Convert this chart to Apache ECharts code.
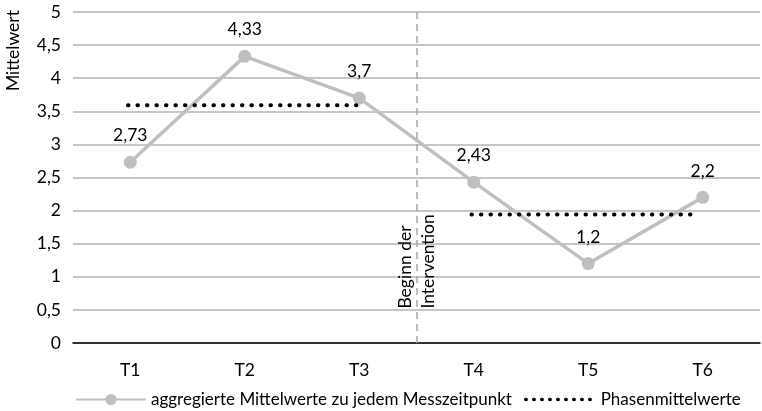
<!DOCTYPE html>
<html>
<head>
<meta charset="utf-8">
<script src="https://cdn.jsdelivr.net/npm/echarts@6/dist/echarts.min.js"></script>
<style>
  html, body { margin: 0; padding: 0; background: #fff; }
  #chart { width: 762px; height: 411px; }
</style>
</head>
<body>
<div id="chart"></div>
<script>
// data
var categories = ['T1', 'T2', 'T3', 'T4', 'T5', 'T6'];
var mittelwerte = [2.73, 4.33, 3.7, 2.43, 1.2, 2.2];
// phase means, drawn on a hidden 0..6 value axis
var phase1 = [[0.48, 3.59], [2.5, 3.59]];
var phase2 = [[3.48, 1.94], [5.47, 1.94]];
var interventionAt = 3;

var font = 'Lato';
var fs = 17.5;
var chart = echarts.init(document.getElementById('chart'));

var fmt = function (v) {
    return String(v).replace('.', ',');
};

chart.setOption({
    animation: false,
    textStyle: { fontFamily: font },
    grid: { left: 73, right: 2, top: 12, bottom: 68 },
    xAxis: [{
        type: 'category',
        data: categories,
        axisLine: { lineStyle: { color: '#000', width: 1.5 } },
        axisTick: { show: false },
        axisLabel: { color: '#000', fontSize: fs, margin: 18, fontFamily: font }
    }, {
        type: 'value',
        min: 0,
        max: 6,
        show: false
    }],
    yAxis: {
        type: 'value',
        min: 0,
        max: 5,
        interval: 0.5,
        axisLine: { show: false },
        axisTick: { show: false },
        axisLabel: { color: '#000', fontSize: fs, margin: 12, formatter: fmt, fontFamily: font },
        splitLine: { lineStyle: { color: '#b3b3b3', width: 1.5 } }
    },
    legend: {
        bottom: 3,
        left: 75,
        right: 0,
        padding: 0,
        itemWidth: 70,
        itemHeight: 14,
        itemGap: 12,
        textStyle: { color: '#000', fontSize: 17, fontFamily: font },
        data: [
            'aggregierte Mittelwerte zu jedem Messzeitpunkt',
            {
                name: 'Phasenmittelwerte',
                itemStyle: { opacity: 0 },
                lineStyle: { width: 3.5, type: [0.5, 7.5], cap: 'round' }
            }
        ]
    },
    series: [{
        name: 'aggregierte Mittelwerte zu jedem Messzeitpunkt',
        type: 'line',
        data: mittelwerte,
        symbol: 'circle',
        symbolSize: 13,
        lineStyle: { color: '#bfbfbf', width: 3.5 },
        itemStyle: { color: '#bfbfbf' },
        label: {
            show: true,
            position: 'top',
            distance: 11,
            color: '#000',
            fontSize: fs,
            fontFamily: font,
            formatter: function (p) { return fmt(p.value); }
        },
        z: 3
    }, {
        name: 'Phasenmittelwerte',
        type: 'line',
        xAxisIndex: 1,
        data: phase1.concat([['-', '-']], phase2),
        symbol: 'none',
        connectNulls: false,
        lineStyle: { color: '#000', width: 4, type: [0.5, 9], cap: 'round' },
        itemStyle: { color: '#000' },
        markLine: {
            silent: true,
            symbol: 'none',
            label: { show: false },
            lineStyle: { color: '#a6a6a6', width: 1.5, type: [7, 5] },
            data: [{ xAxis: interventionAt }]
        },
        z: 4
    }]
});

var lineX = chart.convertToPixel({ xAxisIndex: 1 }, interventionAt);
var textY = chart.convertToPixel({ yAxisIndex: 0 }, 0.52);

chart.setOption({
    graphic: [{
        type: 'text',
        left: 4,
        top: 10,
        rotation: Math.PI / 2,
        style: { text: 'Mittelwert', fill: '#000', fontSize: fs, fontFamily: font }
    }, {
        type: 'text',
        x: lineX,
        y: textY,
        rotation: Math.PI / 2,
        style: {
            text: 'Beginn der\nIntervention',
            fill: '#000',
            fontSize: fs,
            lineHeight: 23,
            fontFamily: font,
            align: 'left',
            verticalAlign: 'middle'
        }
    }]
});
</script>
</body>
</html>
